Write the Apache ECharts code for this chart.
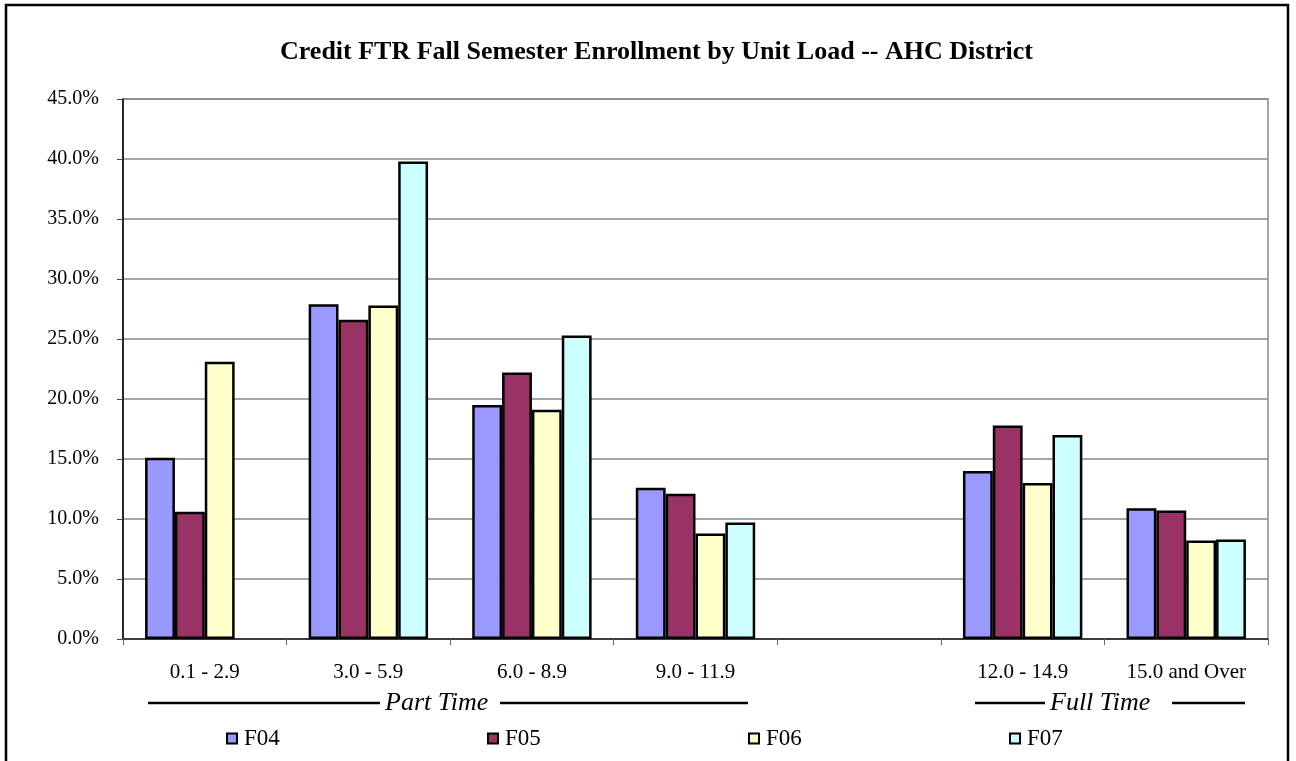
<!DOCTYPE html>
<html>
<head>
<meta charset="utf-8">
<script src="https://cdn.jsdelivr.net/npm/echarts@6/dist/echarts.min.js"></script>
<style>
html,body{margin:0;padding:0;background:#fff;}
#chart{width:1296px;height:761px;}
</style>
</head>
<body>
<div id="chart"></div>
<script>
const categories = ['0.1 - 2.9', '3.0 - 5.9', '6.0 - 8.9', '9.0 - 11.9', '', '12.0 - 14.9', '15.0 and Over'];
const seriesNames = ['F04', 'F05', 'F06', 'F07'];
const F04 = [15.1, 27.9, 19.5, 12.6, null, 14.0, 10.9];
const F05 = [10.6, 26.6, 22.2, 12.1, null, 17.8, 10.7];
const F06 = [23.1, 27.8, 19.1, 8.8, null, 13.0, 8.2];
const F07 = [null, 39.8, 25.3, 9.7, null, 17.0, 8.3];
const yTicks = [0, 5, 10, 15, 20, 25, 30, 35, 40, 45];
const colors = ['#9999FF', '#993366', '#FFFFCC', '#CCFFFF'];
const seriesData = [F04, F05, F06, F07];

const FONT = 'Liberation Serif';
const chart = echarts.init(document.getElementById('chart'));

const legendLefts = [226, 487, 748, 1009];

const option = {
  backgroundColor: '#fff',
  animation: false,
  title: {
    text: 'Credit FTR Fall Semester Enrollment by Unit Load -- AHC District',
    left: 280,
    top: 39,
    padding: 0,
    textStyle: { fontFamily: FONT, fontSize: 26, fontWeight: 'bold', color: '#000' }
  },
  legend: seriesNames.map((n, i) => ({
    data: [n],
    left: legendLefts[i],
    top: 727,
    padding: 0,
    itemWidth: 10,
    itemHeight: 10,
    icon: 'rect',
    itemStyle: { borderColor: '#000', borderWidth: 2 },
    textStyle: { fontFamily: FONT, fontSize: 23, color: '#000', padding: [2, 0, 0, 2] }
  })),
  grid: {
    left: 123, right: 28, top: 99, bottom: 122,
    show: true, borderColor: '#888', borderWidth: 1.5
  },
  xAxis: {
    type: 'category',
    data: categories,
    axisLine: { lineStyle: { color: '#222', width: 1.5 } },
    axisTick: { show: true, length: 6, lineStyle: { color: '#666' } },
    axisLabel: { fontFamily: FONT, fontSize: 21, color: '#000', margin: 23, interval: 0 }
  },
  yAxis: {
    type: 'value',
    min: yTicks[0],
    max: yTicks[yTicks.length - 1],
    interval: 5,
    axisLine: { show: true, lineStyle: { color: '#000', width: 1.5 } },
    axisTick: { show: true, length: 6, lineStyle: { color: '#444' } },
    axisLabel: { fontFamily: FONT, fontSize: 20, color: '#000', margin: 24,
      formatter: v => v.toFixed(1) + '%' },
    splitLine: { show: true, lineStyle: { color: '#888', width: 1.5 } }
  },
  series: seriesNames.map((n, i) => ({
    name: n,
    type: 'bar',
    data: seriesData[i],
    barGap: '0%',
    barCategoryGap: '27%',
    itemStyle: { color: colors[i], borderColor: '#000', borderWidth: 2.5 }
  })),
  graphic: [
    { type: 'rect', shape: { x: 6, y: 5, width: 1282, height: 800 },
      style: { fill: 'none', stroke: '#000', lineWidth: 2.5 }, silent: true },
    { type: 'line', shape: { x1: 148, y1: 703, x2: 380, y2: 703 }, style: { stroke: '#000', lineWidth: 2.5 } },
    { type: 'text', left: 385, top: 690, style: { text: 'Part Time', font: 'italic 26px "Liberation Serif"', fill: '#000' } },
    { type: 'line', shape: { x1: 500, y1: 703, x2: 748, y2: 703 }, style: { stroke: '#000', lineWidth: 2.5 } },
    { type: 'line', shape: { x1: 975, y1: 703, x2: 1045, y2: 703 }, style: { stroke: '#000', lineWidth: 2.5 } },
    { type: 'text', left: 1050, top: 690, style: { text: 'Full Time', font: 'italic 26px "Liberation Serif"', fill: '#000' } },
    { type: 'line', shape: { x1: 1172, y1: 703, x2: 1245, y2: 703 }, style: { stroke: '#000', lineWidth: 2.5 } }
  ]
};
chart.setOption(option);
</script>
</body>
</html>
